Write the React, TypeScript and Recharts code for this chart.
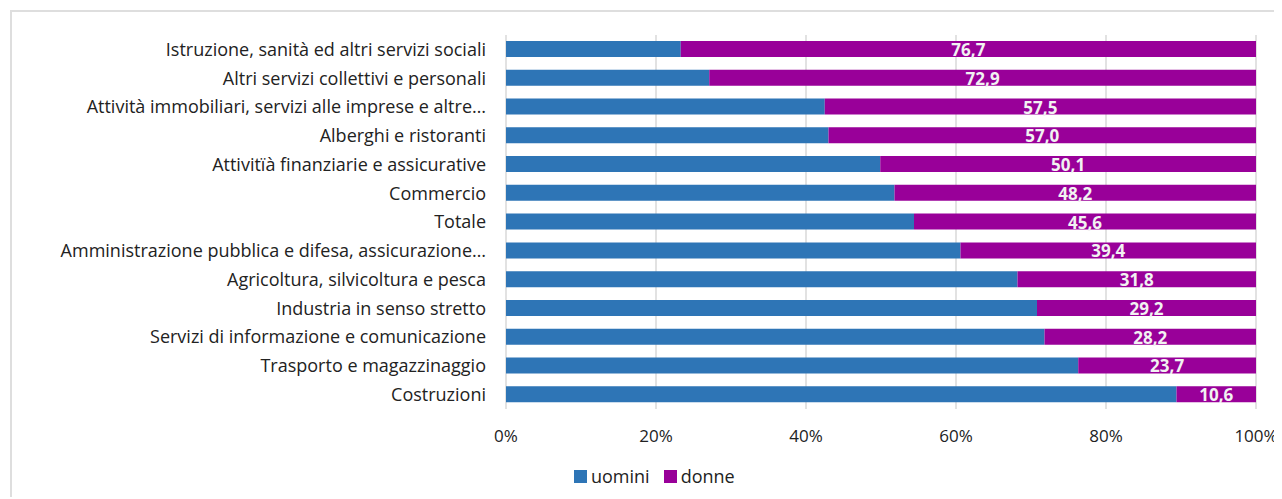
import React from 'react';
import { BarChart, Bar, XAxis, YAxis, CartesianGrid, Legend, LabelList } from 'recharts';

const categories = [
  'Istruzione, sanità ed altri servizi sociali',
  'Altri servizi collettivi e personali',
  'Attività immobiliari, servizi alle imprese e altre…',
  'Alberghi e ristoranti',
  'Attivitïà finanziarie e assicurative',
  'Commercio',
  'Totale',
  'Amministrazione pubblica e difesa, assicurazione…',
  'Agricoltura, silvicoltura e pesca',
  'Industria in senso stretto',
  'Servizi di informazione e comunicazione',
  'Trasporto e magazzinaggio',
  'Costruzioni',
];
const uomini = [23.3, 27.1, 42.5, 43.0, 49.9, 51.8, 54.4, 60.6, 68.2, 70.8, 71.8, 76.3, 89.4];
const donne = [76.7, 72.9, 57.5, 57.0, 50.1, 48.2, 45.6, 39.4, 31.8, 29.2, 28.2, 23.7, 10.6];
const xTicks = [0, 20, 40, 60, 80, 100];

const data = categories.map((name, i) => ({ name, uomini: uomini[i], donne: donne[i] }));

const FONT = '"Open Sans", sans-serif';
const BLUE = '#2E75B6';
const PURPLE = '#990099';

const LegendContent = () => (
  <div style={{ display: 'flex', alignItems: 'center', fontFamily: FONT, fontSize: 18, color: '#222' }}>
    <span style={{ width: 13, height: 13, background: BLUE, display: 'inline-block', marginRight: 4 }} />
    <span style={{ marginRight: 14 }}>uomini</span>
    <span style={{ width: 13, height: 13, background: PURPLE, display: 'inline-block', marginRight: 4 }} />
    <span>donne</span>
  </div>
);

export default function App() {
  return (
    <div style={{ marginLeft: 2, marginTop: 2, width: 1268, height: 485, borderTop: '2px solid #dedede', borderLeft: '2px solid #dedede', background: '#fff', overflow: 'visible' }}>
      <style>{'.recharts-surface{overflow:visible !important}.recharts-wrapper{overflow:visible !important}'}</style>
      <BarChart
        width={1268}
        height={485}
        data={data}
        layout="vertical"
        margin={{ top: 23, right: 24, bottom: 34, left: 0 }}
        barSize={16}
      >
        <CartesianGrid horizontal={false} vertical={true} stroke="#d9d9d9" strokeWidth={1.5} />
        <XAxis
          type="number"
          domain={[0, 100]}
          ticks={xTicks}
          tickFormatter={(v: number) => `${v}%`}
          axisLine={false}
          tickLine={false}
          tickMargin={15}
          height={30}
          tick={{ fill: '#222', fontSize: 17, fontFamily: FONT }}
          interval={0}
        />
        <YAxis
          type="category"
          dataKey="name"
          width={494}
          axisLine={false}
          tickLine={false}
          tickMargin={14}
          interval={0}
          tick={{ fill: '#222', fontSize: 18, fontFamily: FONT }}
        />
        <Legend
          content={<LegendContent />}
          wrapperStyle={{ position: 'absolute', top: 452, left: 562, width: 'auto', bottom: 'auto' }}
        />
        <Bar dataKey="uomini" stackId="a" fill={BLUE} isAnimationActive={false} />
        <Bar dataKey="donne" stackId="a" fill={PURPLE} isAnimationActive={false}>
          <LabelList
            dataKey="donne"
            position="center"
            formatter={(v: number) => v.toFixed(1).replace('.', ',')}
            fill="#F2F2F2"
            dy={1}
            style={{ fontWeight: 700, fontSize: 17, fontFamily: FONT }}
          />
        </Bar>
      </BarChart>
    </div>
  );
}
